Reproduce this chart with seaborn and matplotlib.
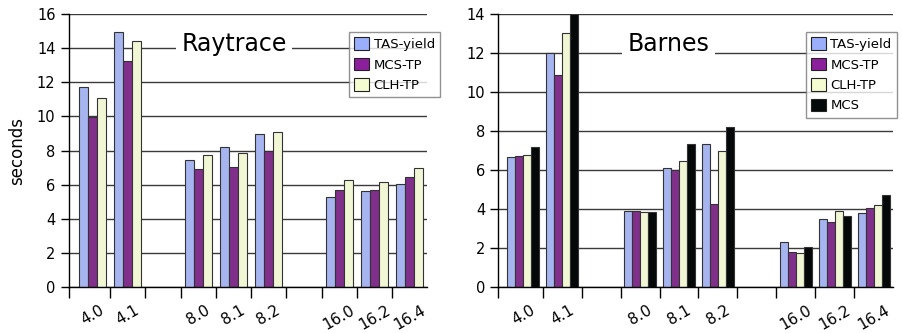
import pandas as pd
import numpy as np
import matplotlib
matplotlib.use("Agg")
import matplotlib.pyplot as plt
import seaborn as sns
from matplotlib.patches import Patch

# slots on the x axis; "gap" slots stay empty
slots = ["4.0", "4.1", "gap1", "8.0", "8.1", "8.2", "gap2", "16.0", "16.2", "16.4"]
versions = ["4.0", "4.1", "8.0", "8.1", "8.2", "16.0", "16.2", "16.4"]

# Raytrace (seconds)
ray_tas_yield = [11.75, 14.95, 7.47, 8.22, 8.94, 5.30, 5.64, 6.04]
ray_mcs_tp = [9.97, 13.27, 6.93, 7.06, 8.00, 5.67, 5.67, 6.46]
ray_clh_tp = [11.10, 14.42, 7.75, 7.87, 9.10, 6.30, 6.16, 6.99]

# Barnes (seconds)
bar_tas_yield = [6.66, 11.99, 3.91, 6.10, 7.34, 2.32, 3.50, 3.79]
bar_mcs_tp = [6.73, 10.88, 3.91, 6.01, 4.27, 1.78, 3.31, 4.05]
bar_clh_tp = [6.76, 13.01, 3.86, 6.45, 6.95, 1.74, 3.89, 4.20]
bar_mcs = [7.20, 14.00, 3.86, 7.34, 8.21, 2.05, 3.62, 4.73]

colors = {"TAS-yield": "#9aaefc", "MCS-TP": "#8c1f9b", "CLH-TP": "#f4fcd0", "MCS": "#040909"}


def long_df(series):
    rows = []
    for name, vals in series.items():
        for v, val in zip(versions, vals):
            rows.append({"version": v, "lock": name, "seconds": val})
    return pd.DataFrame(rows)


ray_df = long_df({"TAS-yield": ray_tas_yield, "MCS-TP": ray_mcs_tp, "CLH-TP": ray_clh_tp})
bar_df = long_df({"TAS-yield": bar_tas_yield, "MCS-TP": bar_mcs_tp,
                  "CLH-TP": bar_clh_tp, "MCS": bar_mcs})

fig = plt.figure(figsize=(9.02, 3.33), dpi=100)
ax1 = fig.add_axes([0.0762, 0.138, 0.3976, 0.820])
ax2 = fig.add_axes([0.5524, 0.138, 0.4379, 0.820])


def draw(ax, df, width, ymax, title, title_x, leg_x, extra_left):
    locks = list(df["lock"].unique())
    sns.barplot(data=df, x="version", y="seconds", hue="lock", order=slots,
                hue_order=locks, palette=colors, width=width,
                edgecolor="#333333", linewidth=0.8, ax=ax, legend=False)
    left = -0.5 - extra_left
    ax.set_xlim(left, 9.5)
    ax.set_ylim(0, ymax)
    ax.set_yticks(np.arange(0, ymax + 1, 2))
    ax.yaxis.grid(True, color="#3a3a3a", linewidth=1.0)
    ax.set_axisbelow(True)
    for s in ["top", "right"]:
        ax.spines[s].set_visible(False)
    for s in ["left", "bottom"]:
        ax.spines[s].set_color("black")
        ax.spines[s].set_linewidth(1.0)
    # tick marks at slot boundaries, labels centered in slots
    ax.set_xticks([left] + [i + 0.5 for i in range(9)])
    ax.set_xticklabels([])
    ax.tick_params(axis="x", which="major", length=8, width=1, color="black")
    centers = [i for i, s in enumerate(slots) if not s.startswith("gap")]
    ax.set_xticks(centers, minor=True)
    ax.set_xticklabels([slots[i] for i in centers], minor=True, rotation=30,
                       ha="center", fontsize=11)
    ax.tick_params(axis="x", which="minor", length=0, pad=11)
    ax.tick_params(axis="y", length=6, width=1, labelsize=10.5, color="black")
    ax.set_xlabel("")
    ax.set_ylabel("")
    ax.text(title_x, 0.89, title, transform=ax.transAxes, ha="center",
            va="center", fontsize=17,
            bbox=dict(facecolor="white", edgecolor="none", pad=4))
    handles = [Patch(facecolor=colors[k], edgecolor="#222222", linewidth=0.8, label=k)
               for k in locks]
    leg = ax.legend(handles=handles, loc="upper left", bbox_to_anchor=(leg_x, 0.934),
                    borderaxespad=0, frameon=True, fancybox=False, fontsize=9.5,
                    handlelength=1.1, handleheight=1.1, handletextpad=0.35,
                    labelspacing=0.5, borderpad=0.4)
    leg.get_frame().set_edgecolor("#777777")
    leg.get_frame().set_linewidth(1.0)
    leg.set_clip_on(False)


draw(ax1, ray_df, 0.76, 16, "Raytrace", 0.461, 0.782, 0.17)
draw(ax2, bar_df, 0.82, 14, "Barnes", 0.43, 0.779, 0.14)
ax1.set_ylabel("seconds", fontsize=12, labelpad=8)

fig.savefig("out.png", dpi=100)
